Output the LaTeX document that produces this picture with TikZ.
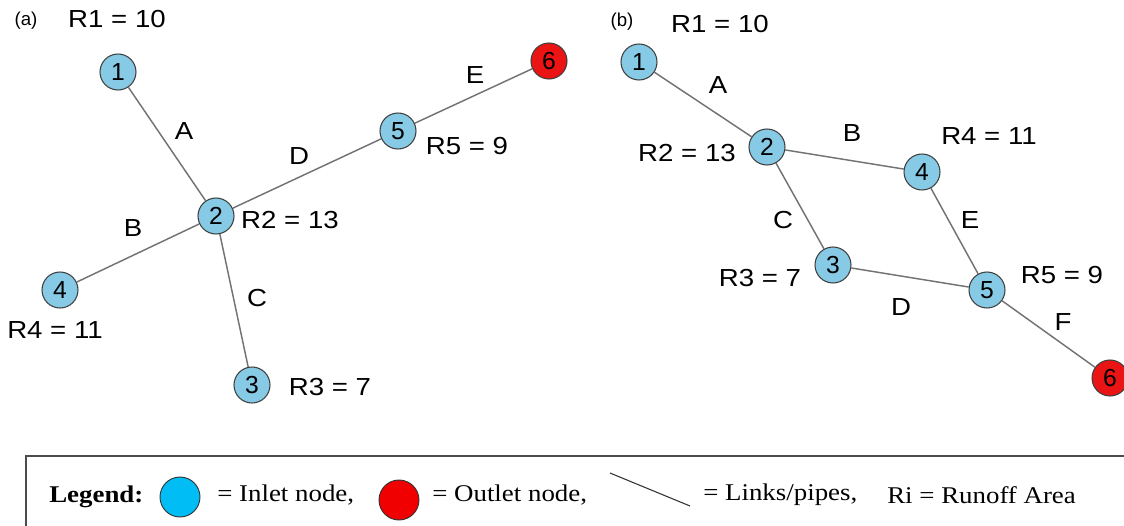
\documentclass[tikz,border=0pt]{standalone}
\usepackage{fontspec}
\setmainfont{Liberation Serif}
\newfontfamily\labfont{Liberation Sans}
\definecolor{nodeblue}{RGB}{135,202,230}
\definecolor{nodered}{RGB}{235,20,20}
\definecolor{legblue}{RGB}{0,190,245}
\definecolor{legred}{RGB}{240,0,0}
\definecolor{linkgray}{RGB}{115,115,115}
\newcommand\widetext[1]{\scalebox{1.12}[1]{#1}}
\tikzset{
  inlet/.style={circle,draw=black!75,line width=0.8pt,fill=nodeblue,minimum size=27pt,inner sep=0pt,font=\labfont\fontsize{18.5}{18}\selectfont},
  outlet/.style={inlet,fill=nodered},
  link/.style={draw=linkgray,line width=1.1pt},
  lbl/.style={font=\labfont\fontsize{18.5}{20}\selectfont,inner sep=0pt},
  panel/.style={font=\labfont\fontsize{14}{16}\selectfont,inner sep=0pt},
  legtext/.style={font=\fontsize{18}{20}\selectfont,inner sep=0pt,anchor=west},
  legcirc/.style={circle,draw=black!80,line width=0.7pt,minimum width=30pt,minimum height=30pt,inner sep=0pt}
}
\begin{document}
\begin{tikzpicture}[x=0.75pt,y=-0.75pt]
\useasboundingbox (0,0) rectangle (1124,525);
\clip (0,0) rectangle (1124,525);
% ---------- panel (a) ----------
\node[panel] (pa) at (26,21) {(a)};
\node[inlet] (a1) at (118,72) {1};
\node[inlet] (a2) at (216,216) {2};
\node[inlet] (a3) at (252,385) {3};
\node[inlet] (a4) at (60,290) {4};
\node[inlet] (a5) at (398,131) {5};
\node[outlet] (a6) at (549,61) {6};
\draw[link] (a1) -- (a2);
\draw[link] (a2) -- (a5);
\draw[link] (a5) -- (a6);
\draw[link] (a2) -- (a4);
\draw[link] (a2) -- (a3);
\node[lbl] (la) at (184,131) {\widetext{A}};
\node[lbl] (ld) at (299,156) {\widetext{D}};
\node[lbl] (lb) at (133,228) {\widetext{B}};
\node[lbl] (lc) at (257,298) {\widetext{C}};
\node[lbl] (le) at (475,75) {\widetext{E}};
\node[lbl] (ar1) at (117,19) {\widetext{R1 = 10}};
\node[lbl] (ar2) at (290,220) {\widetext{R2 = 13}};
\node[lbl] (ar3) at (330,387) {\widetext{R3 = 7}};
\node[lbl] (ar4) at (55,330) {\widetext{R4 = 11}};
\node[lbl] (ar5) at (467,146) {\widetext{R5 = 9}};
% ---------- panel (b) ----------
\node[panel] (pb) at (622,22) {(b)};
\node[inlet] (b1) at (639,62) {1};
\node[inlet] (b2) at (767,147) {2};
\node[inlet] (b3) at (833,265) {3};
\node[inlet] (b4) at (922,172) {4};
\node[inlet] (b5) at (987,290) {5};
\node[outlet] (b6) at (1110,378) {6};
\draw[link] (b1) -- (b2);
\draw[link] (b2) -- (b4);
\draw[link] (b2) -- (b3);
\draw[link] (b3) -- (b5);
\draw[link] (b4) -- (b5);
\draw[link] (b5) -- (b6);
\node[lbl] (lba) at (718,85) {\widetext{A}};
\node[lbl] (lbb) at (852,133) {\widetext{B}};
\node[lbl] (lbc) at (783,220) {\widetext{C}};
\node[lbl] (lbd) at (901,307) {\widetext{D}};
\node[lbl] (lbe) at (970,220) {\widetext{E}};
\node[lbl] (lbf) at (1063,322) {\widetext{F}};
\node[lbl] (br1) at (720,24) {\widetext{R1 = 10}};
\node[lbl] (br2) at (687,153) {\widetext{R2 = 13}};
\node[lbl] (br3) at (760,278) {\widetext{R3 = 7}};
\node[lbl] (br4) at (989,136) {\widetext{R4 = 11}};
\node[lbl] (br5) at (1062,275) {\widetext{R5 = 9}};
% ---------- legend ----------
\draw[draw=black!70,line width=1pt] (1130,456) -- (26,456) -- (26,540);
\node[legtext,font=\bfseries\fontsize{18}{20}\selectfont] (lg) at (49,497) {\widetext{Legend:}};
\node[legcirc,fill=legblue] (lgb) at (180,497) {};
\node[legtext] (lgi) at (217,495) {\widetext{= Inlet node,}};
\node[legcirc,fill=legred] (lgr) at (399,500) {};
\node[legtext] (lgo) at (432,495) {\widetext{= Outlet node,}};
\coordinate (ls) at (610,473);
\coordinate (le2) at (690,506);
\draw[black!80,line width=0.8pt] (ls) -- (le2);
\node[legtext] (lgl) at (703,495) {\widetext{= Links/pipes,}};
\node[legtext] (lgr2) at (887,495) {\widetext{Ri = Runoff Area}};
\end{tikzpicture}
\end{document}
